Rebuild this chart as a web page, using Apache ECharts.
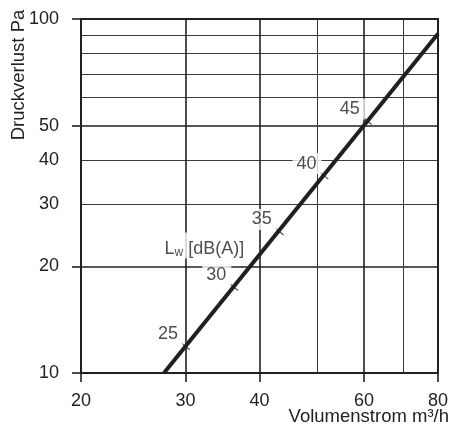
<!DOCTYPE html>
<html>
<head>
<meta charset="utf-8">
<script src="https://cdn.jsdelivr.net/npm/echarts@6/dist/echarts.min.js"></script>
<style>
html,body{margin:0;padding:0;background:#fff;}
#chart{width:451px;height:432px;}
</style>
</head>
<body>
<div id="chart"></div>
<script>
// ---- data ----
const xLabelValues = [20, 30, 40, 60, 80];
const xMajorLines = [20, 30, 40, 60, 80];
const xMinorLines = [50, 70];
const yLabelValues = [10, 20, 30, 40, 50, 100];
const yMajorLines = [10, 20, 50, 100];
const yMinorLines = [30, 40, 60, 70, 80, 90];
const lineX = [27.6, 80];
const lineY = [10, 90.8];
const dBLevels = ['25', '30', '35', '40', '45'];
const markX = [30.0, 36.2, 43.2, 51.4, 60.8];
const markY = [11.9, 17.5, 25.1, 36.1, 51.5];
const lwLabelAt = [32.3, 22.9];
const xTitle = 'Volumenstrom m³/h';
const yTitle = 'Druckverlust Pa';

// ---- chart ----
const FONT = 'Liberation Sans';
const TXT = '#222';
const INK = '#231f20';
const chart = echarts.init(document.getElementById('chart'), null, {renderer: 'canvas'});

const lineData = lineX.map((x, i) => [x, lineY[i]]);
const markData = markX.map((x, i) => [x, markY[i]]);

chart.setOption({
  animation: false,
  backgroundColor: '#fff',
  grid: {left: 81, right: 12, top: 19, bottom: 59, containLabel: false},
  xAxis: [
    {
      type: 'log', logBase: 10, min: 20, max: 80, position: 'bottom',
      axisLine: {show: true, onZero: false, lineStyle: {color: INK, width: 2}},
      axisTick: {show: true, inside: false, length: 9, customValues: xMajorLines, lineStyle: {color: INK, width: 1.6}},
      axisLabel: {show: true, customValues: xLabelValues, margin: 19, color: TXT, fontFamily: FONT, fontSize: 18},
      splitLine: {show: true, lineStyle: {color: INK, width: 1.6}},
      minorTick: {show: false}, minorSplitLine: {show: false}
    },
    {
      type: 'log', logBase: 10, min: 20, max: 80, position: 'top',
      axisLine: {show: true, onZero: false, lineStyle: {color: INK, width: 2}},
      axisTick: {show: false, customValues: xMinorLines},
      axisLabel: {show: false},
      splitLine: {show: true, lineStyle: {color: '#3a3a3a', width: 1}}
    }
  ],
  yAxis: [
    {
      type: 'log', logBase: 10, min: 10, max: 100, position: 'left',
      axisLine: {show: true, onZero: false, lineStyle: {color: INK, width: 2}},
      axisTick: {show: true, inside: false, length: 9, customValues: yMajorLines, lineStyle: {color: INK, width: 1.6}},
      axisLabel: {show: true, customValues: yLabelValues, margin: 22, color: TXT, fontFamily: FONT, fontSize: 18},
      splitLine: {show: true, lineStyle: {color: INK, width: 1.6}}
    },
    {
      type: 'log', logBase: 10, min: 10, max: 100, position: 'right',
      axisLine: {show: true, onZero: false, lineStyle: {color: INK, width: 2}},
      axisTick: {show: false, customValues: yMinorLines},
      axisLabel: {show: false},
      splitLine: {show: true, lineStyle: {color: '#3a3a3a', width: 1}}
    }
  ],
  graphic: [
    {type: 'text', right: 2, top: 407, style: {text: xTitle, font: '18.5px ' + FONT, fill: TXT}},
    {type: 'text', x: 19, y: 75, rotation: Math.PI / 2,
     style: {text: yTitle, font: '18.5px ' + FONT, fill: TXT, align: 'center', verticalAlign: 'middle'}}
  ],
  series: [
    {
      type: 'line', xAxisIndex: 0, yAxisIndex: 0, data: lineData,
      symbol: 'none', lineStyle: {color: INK, width: 4}, z: 5
    },
    {
      type: 'scatter', xAxisIndex: 0, yAxisIndex: 0, data: markData,
      symbol: 'rect', symbolSize: [1.2, 11], symbolRotate: 51,
      itemStyle: {color: INK}, z: 6,
      label: {
        show: true, position: 'inside', offset: [-17, -12],
        formatter: p => dBLevels[p.dataIndex],
        color: TXT, fontFamily: FONT, fontSize: 18,
        backgroundColor: '#fff', padding: [3, 5, 0, 4]
      }
    },
    {
      type: 'scatter', xAxisIndex: 0, yAxisIndex: 0, data: [lwLabelAt],
      symbolSize: 1, itemStyle: {color: 'transparent'}, z: 7,
      label: {
        show: true, position: 'inside',
        formatter: 'L{sub|w} [dB(A)]',
        color: TXT, fontFamily: FONT, fontSize: 18,
        backgroundColor: '#fff', padding: [6, 3, 0, 3],
        rich: {sub: {fontSize: 12, fontFamily: FONT, color: TXT, verticalAlign: 'bottom', padding: [8, 0, 0, 0]}}
      }
    }
  ]
});
</script>
</body>
</html>
